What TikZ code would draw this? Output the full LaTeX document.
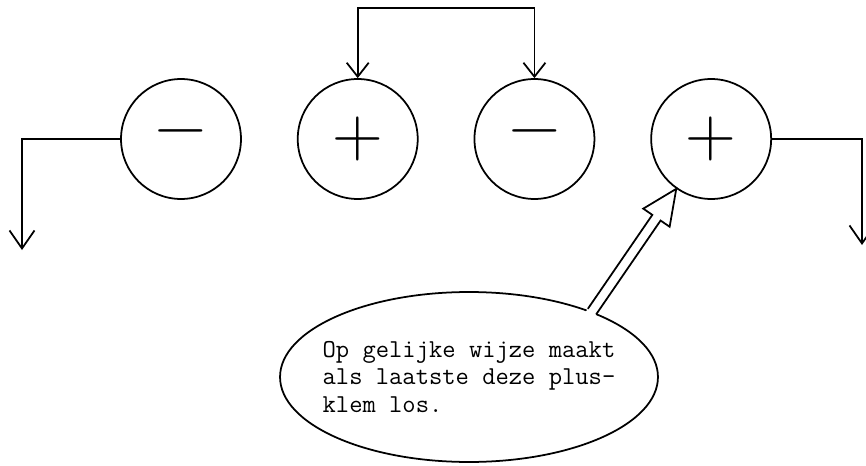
\documentclass[tikz,border=0pt]{standalone}
\usepackage{fontspec}
\usetikzlibrary{arrows.meta, positioning, calc, shapes.geometric}

\begin{document}
\begin{tikzpicture}[x=0.02cm, y=-0.02cm,
    node distance=1.1cm,
    pole/.style={circle, draw=black, line width=1pt, minimum size=2.4cm, inner sep=0pt, font=\fontsize{40}{40}\selectfont},
    wire/.style={line width=1pt, -{Straight Barb[length=0.36cm, width=0.5cm]}},
    bridge/.style={line width=1pt, {Straight Barb[length=0.28cm, width=0.44cm]}-{Straight Barb[length=0.28cm, width=0.44cm]}},
    callout/.style={ellipse, draw=black, line width=1pt, minimum width=7.56cm, minimum height=3.4cm, inner xsep=-0.4cm, inner ysep=0pt, align=left, font=\ttfamily\fontsize{14.7}{15.9}\selectfont},
    tail/.style={line width=1pt, line join=miter}
]
\useasboundingbox (0,0) rectangle (866,466);

% Define nodes
\node[pole] (minusa) at (181,139) {−};
\node[pole, right=of minusa] (plusa) {+};
\node[pole, right=of plusa] (minusb) {−};
\node[pole, right=of minusb] (plusb) {+};

% Speech bubble
\node[callout] (bubble) at (469,377) {Op gelijke wijze maakt\\als laatste deze plus-\\klem los.};

% Free ends of the wires
\coordinate (link) at (443,8);
\coordinate (leftend) at (22,250);
\coordinate (rightend) at (862,245);

% Draw wires
\draw[bridge] (plusa.north) |- (link) -| (minusb.north);
\draw[wire] (minusa.west) -| (leftend);
\draw[wire] (plusb.east) -| (rightend);

% Hollow pointer from bubble to last pole
\coordinate (tailbase) at (bubble.28);
\coordinate (tailtip) at (plusb.235);
\coordinate (headmid) at ($(tailtip)!0.7cm!(tailbase)$);
\coordinate (rootin) at ($(tailbase)!-2pt!(tailtip)$);
\fill[white] ($(rootin)!0.1cm!90:(tailtip)$) -- ($(headmid)!0.1cm!90:(tailtip)$)
    -- ($(headmid)!0.1cm!-90:(tailtip)$) -- ($(rootin)!0.1cm!-90:(tailtip)$) -- cycle;
\draw[tail] ($(tailbase)!0.1cm!90:(tailtip)$) -- ($(headmid)!0.1cm!90:(tailtip)$)
    -- ($(headmid)!0.32cm!90:(tailtip)$) -- (tailtip)
    -- ($(headmid)!0.32cm!-90:(tailtip)$) -- ($(headmid)!0.1cm!-90:(tailtip)$)
    -- ($(tailbase)!0.1cm!-90:(tailtip)$);

\end{tikzpicture}
\end{document}
